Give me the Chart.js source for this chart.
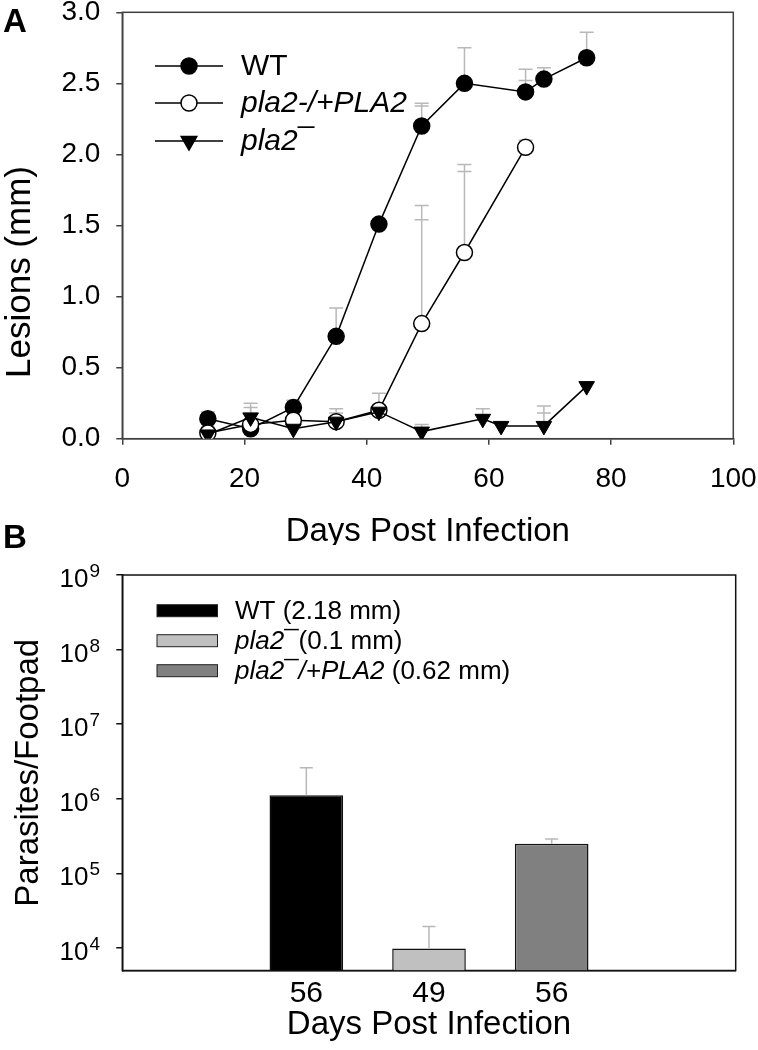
<!DOCTYPE html>
<html>
<head>
<meta charset="utf-8">
<script src="https://cdn.jsdelivr.net/npm/chart.js@4/dist/chart.umd.min.js"></script>
<style>
  html, body { margin: 0; padding: 0; background: #fff; }
  body { width: 758px; height: 1050px; position: relative; overflow: hidden; }
  canvas { position: absolute; left: 0; }
  #chartA { top: 0; }
  #chartB { top: 500px; }
</style>
</head>
<body>
<canvas id="chartA" width="758" height="545"></canvas>
<canvas id="chartB" width="758" height="550"></canvas>
<script>
// Panel A - lesion size over time
const wtDays = [14, 21, 28, 35, 42, 49, 56, 66, 69, 76];
const wtLesion = [0.14, 0.07, 0.22, 0.72, 1.51, 2.20, 2.50, 2.44, 2.53, 2.68];
const wtErr = [0.19, null, 0.27, 0.92, null, 2.36, 2.75, 2.60, 2.61, 2.86];
const wtErr2 = [null, null, null, null, null, 2.34, null, 2.52, null, null];

const rescueDays = [14, 21, 28, 35, 42, 49, 56, 66];
const rescueLesion = [0.04, 0.10, 0.13, 0.12, 0.20, 0.81, 1.31, 2.05];
const rescueErr = [0.08, 0.22, null, 0.21, 0.32, 1.64, 1.93, 2.10];
const rescueErr2 = [null, null, null, null, null, 1.54, 1.88, null];

const nullDays = [14, 21, 28, 35, 42, 49, 59, 62, 69, 76];
const nullLesion = [0.03, 0.15, 0.07, 0.12, 0.19, 0.05, 0.14, 0.09, 0.09, 0.37];
const nullErr = [null, 0.25, null, 0.18, null, 0.10, 0.21, null, 0.23, null];
const nullErr2 = [null, null, null, null, null, null, null, null, 0.18, null];

// Panel B - parasite burden
const barDays = ['56', '49', '56'];
const barValues = [1.12e6, 9.85e3, 2.5e5];
const barErr = [2.6e6, 1.94e4, 2.9e5];
const barColors = ['#000000', '#c0c0c0', '#808080'];
const logTicks = [1e4, 1e5, 1e6, 1e7, 1e8, 1e9];

const FONT = "'Liberation Sans', Arial, sans-serif";
const ERR_COLOR = '#b8b8b8';

function pts(days, vals) {
    return days.map((d, i) => ({ x: d, y: vals[i] }));
}

// frame round the plot area
const framePlugin = {
    id: 'frame',
    beforeDatasetsDraw(chart, args, opts) {
        const { ctx, chartArea: a } = chart;
        ctx.save();
        ctx.strokeStyle = opts.color;
        ctx.lineWidth = opts.width;
        ctx.strokeRect(a.left, a.top, a.right - a.left, a.bottom - a.top);
        ctx.restore();
    }
};

// upper error bars, grey
const errPlugin = {
    id: 'errbars',
    beforeDatasetsDraw(chart) {
        const { ctx } = chart;
        const ys = chart.scales.y;
        ctx.save();
        ctx.strokeStyle = ERR_COLOR;
        ctx.lineWidth = 1.5;
        chart.data.datasets.forEach((ds, di) => {
            const meta = chart.getDatasetMeta(di);
            (ds.errTop || []).forEach((e, i) => {
                if (e == null) return;
                const el = meta.data[i];
                const x = el.x, y0 = el.y;
                const y1 = ys.getPixelForValue(e);
                const hw = 7;
                ctx.beginPath();
                ctx.moveTo(x, y0);
                ctx.lineTo(x, y1);
                ctx.moveTo(x - hw, y1);
                ctx.lineTo(x + hw, y1);
                const e2 = (ds.errTop2 || [])[i];
                if (e2 != null) {
                    const y2 = ys.getPixelForValue(e2);
                    ctx.moveTo(x - hw, y2);
                    ctx.lineTo(x + hw, y2);
                }
                ctx.stroke();
            });
        });
        ctx.restore();
    }
};

// Panel A: legend, titles, letter
const decoA = {
    id: 'decoA',
    afterDraw(chart) {
        const { ctx } = chart;
        ctx.save();
        const rows = [66, 103, 141];
        chart.data.datasets.forEach((ds, r) => {
            const y = rows[r];
            ctx.strokeStyle = '#000';
            ctx.lineWidth = 1.5;
            ctx.beginPath();
            ctx.moveTo(155, y);
            ctx.lineTo(223, y);
            ctx.stroke();
            ctx.fillStyle = ds.pointBackgroundColor;
            Chart.helpers.drawPoint(ctx, {
                pointStyle: ds.pointStyle || 'circle',
                radius: ds.pointRadius,
                rotation: ds.pointRotation || 0,
                borderWidth: 1.5
            }, 189, y);
            ctx.fillStyle = '#000';
            ctx.textBaseline = 'middle';
            ctx.textAlign = 'left';
            ctx.font = (ds.italic ? 'italic ' : '') + '30px ' + FONT;
            ctx.fillText(ds.label, 241, y + 1);
        });

        ctx.fillStyle = '#000';
        ctx.textAlign = 'center';
        ctx.textBaseline = 'alphabetic';
        ctx.font = '33px ' + FONT;
        const a = chart.chartArea;
        ctx.fillText('Days Post Infection', (a.left + a.right) / 2, 541);

        ctx.save();
        ctx.translate(30, 272);
        ctx.rotate(-Math.PI / 2);
        ctx.font = '35px ' + FONT;
        ctx.fillText('Lesions (mm)', 0, 0);
        ctx.restore();

        ctx.textAlign = 'left';
        ctx.font = 'bold 33px ' + FONT;
        ctx.fillText('A', 3, 32);
        ctx.restore();
    }
};

new Chart(document.getElementById('chartA'), {
    type: 'line',
    data: {
        datasets: [
            {
                label: 'WT', data: pts(wtDays, wtLesion), errTop: wtErr, errTop2: wtErr2,
                borderColor: '#000', borderWidth: 1.5, pointRadius: 8,
                pointBackgroundColor: '#000', pointBorderColor: '#000', pointBorderWidth: 1.5,
                order: 3
            },
            {
                label: 'pla2-/+PLA2', italic: true, data: pts(rescueDays, rescueLesion), errTop: rescueErr, errTop2: rescueErr2,
                borderColor: '#000', borderWidth: 1.5, pointRadius: 8,
                pointBackgroundColor: '#fff', pointBorderColor: '#000', pointBorderWidth: 1.5,
                order: 2
            },
            {
                label: 'pla2\u00AF', italic: true, data: pts(nullDays, nullLesion), errTop: nullErr, errTop2: nullErr2,
                borderColor: '#000', borderWidth: 1.5, pointRadius: 9, pointStyle: 'triangle', pointRotation: 180,
                pointBackgroundColor: '#000', pointBorderColor: '#000', pointBorderWidth: 1,
                order: 1
            }
        ]
    },
    options: {
        responsive: false,
        animation: false,
        layout: { padding: { top: 12.3, right: 24.7, left: 0, bottom: 0 } },
        elements: { line: { tension: 0 } },
        plugins: {
            legend: { display: false },
            tooltip: { enabled: false },
            frame: { color: '#404040', width: 1.5 }
        },
        scales: {
            x: {
                type: 'linear', min: 0, max: 100,
                ticks: { stepSize: 20, color: '#000', font: { family: FONT, size: 28 }, padding: 18, maxRotation: 0 },
                grid: { drawOnChartArea: false, tickLength: 6, color: '#404040', lineWidth: 1.5 },
                border: { color: '#404040', width: 1.5 },
                afterFit(s) { s.height = 545 - 438.7; s.paddingLeft = 0; s.paddingRight = 0; }
            },
            y: {
                min: 0, max: 3,
                ticks: { stepSize: 0.5, color: '#000', font: { family: FONT, size: 28 }, padding: 16, callback: v => v.toFixed(1) },
                grid: { drawOnChartArea: false, tickLength: 6, color: '#404040', lineWidth: 1.5 },
                border: { color: '#404040', width: 1.5 },
                afterFit(s) { s.width = 122.3; s.paddingTop = 0; s.paddingBottom = 0; }
            }
        }
    },
    plugins: [framePlugin, errPlugin, decoA]
});

// Panel B: bar errors, legend, log labels, titles
const decoB = {
    id: 'decoB',
    afterDatasetsDraw(chart) {
        const { ctx } = chart;
        const ys = chart.scales.y;
        const meta = chart.getDatasetMeta(0);
        ctx.save();
        ctx.strokeStyle = ERR_COLOR;
        ctx.lineWidth = 1.5;
        barErr.forEach((e, i) => {
            const el = meta.data[i + 1];
            const y1 = ys.getPixelForValue(e);
            ctx.beginPath();
            ctx.moveTo(el.x, el.y);
            ctx.lineTo(el.x, y1);
            ctx.moveTo(el.x - 6.5, y1);
            ctx.lineTo(el.x + 6.5, y1);
            ctx.stroke();
        });
        ctx.restore();
    },
    afterDraw(chart) {
        const { ctx } = chart;
        const ys = chart.scales.y;
        const a = chart.chartArea;
        ctx.save();
        ctx.fillStyle = '#000';

        // 10^n labels
        logTicks.forEach(v => {
            const y = ys.getPixelForValue(v);
            const n = String(Math.round(Math.log10(v)));
            ctx.font = '19px ' + FONT;
            ctx.textAlign = 'right';
            ctx.textBaseline = 'alphabetic';
            const sw = ctx.measureText(n).width;
            ctx.fillText(n, 100, y + 2);
            ctx.font = '26px ' + FONT;
            ctx.fillText('10', 100 - sw - 1, y + 12);
        });

        // legend
        const rows = [110.7, 140.7, 170.7];
        const parts = [
            [['WT (2.18 mm)', false]],
            [['pla2\u00AF', true], ['(0.1 mm)', false]],
            [['pla2\u00AF/+PLA2', true], [' (0.62 mm)', false]]
        ];
        rows.forEach((y, r) => {
            ctx.fillStyle = barColors[r];
            ctx.fillRect(157, y - 6, 60.5, 12);
            ctx.strokeStyle = '#222';
            ctx.lineWidth = 1;
            ctx.strokeRect(157, y - 6, 60.5, 12);
            ctx.fillStyle = '#000';
            ctx.textAlign = 'left';
            ctx.textBaseline = 'middle';
            let x = 235;
            parts[r].forEach(([t, it]) => {
                ctx.font = (it ? 'italic ' : '') + '26px ' + FONT;
                ctx.fillText(t, x, y + 1);
                x += ctx.measureText(t).width;
            });
        });

        ctx.textAlign = 'center';
        ctx.textBaseline = 'alphabetic';
        ctx.font = '33px ' + FONT;
        ctx.fillText('Days Post Infection', (a.left + a.right) / 2, 534);

        ctx.save();
        ctx.translate(38, (a.top + a.bottom) / 2);
        ctx.rotate(-Math.PI / 2);
        ctx.font = '33px ' + FONT;
        ctx.fillText('Parasites/Footpad', 0, 0);
        ctx.restore();

        ctx.textAlign = 'left';
        ctx.font = 'bold 33px ' + FONT;
        ctx.fillText('B', 3, 48);
        ctx.restore();
    }
};

new Chart(document.getElementById('chartB'), {
    type: 'bar',
    data: {
        labels: ['', ...barDays, ''],
        datasets: [{
            data: [null, ...barValues, null],
            backgroundColor: ['#fff', ...barColors, '#fff'],
            borderColor: '#111',
            borderWidth: 1.5,
            barPercentage: 0.6,
            categoryPercentage: 1
        }]
    },
    options: {
        responsive: false,
        animation: false,
        layout: { padding: { top: 75, right: 22.3, left: 0, bottom: 0 } },
        plugins: {
            legend: { display: false },
            tooltip: { enabled: false },
            frame: { color: '#111', width: 1.5 }
        },
        scales: {
            x: {
                ticks: { color: '#000', font: { family: FONT, size: 30 }, padding: 5, maxRotation: 0, autoSkip: false },
                grid: { display: false, drawTicks: false },
                border: { color: '#111', width: 1.5 },
                afterFit(s) { s.height = 550 - 470.5; s.paddingLeft = 0; s.paddingRight = 0; }
            },
            y: {
                type: 'logarithmic', min: 5000, max: 1e9,
                afterBuildTicks(s) { s.ticks = logTicks.map(v => ({ value: v })); },
                ticks: { callback: () => '', font: { family: FONT, size: 24 } },
                grid: { drawOnChartArea: false, tickLength: 6, color: '#111', lineWidth: 1.5 },
                border: { color: '#111', width: 1.5 },
                afterFit(s) { s.width = 122.3; s.paddingTop = 0; s.paddingBottom = 0; }
            }
        }
    },
    plugins: [framePlugin, decoB]
});
</script>
</body>
</html>
